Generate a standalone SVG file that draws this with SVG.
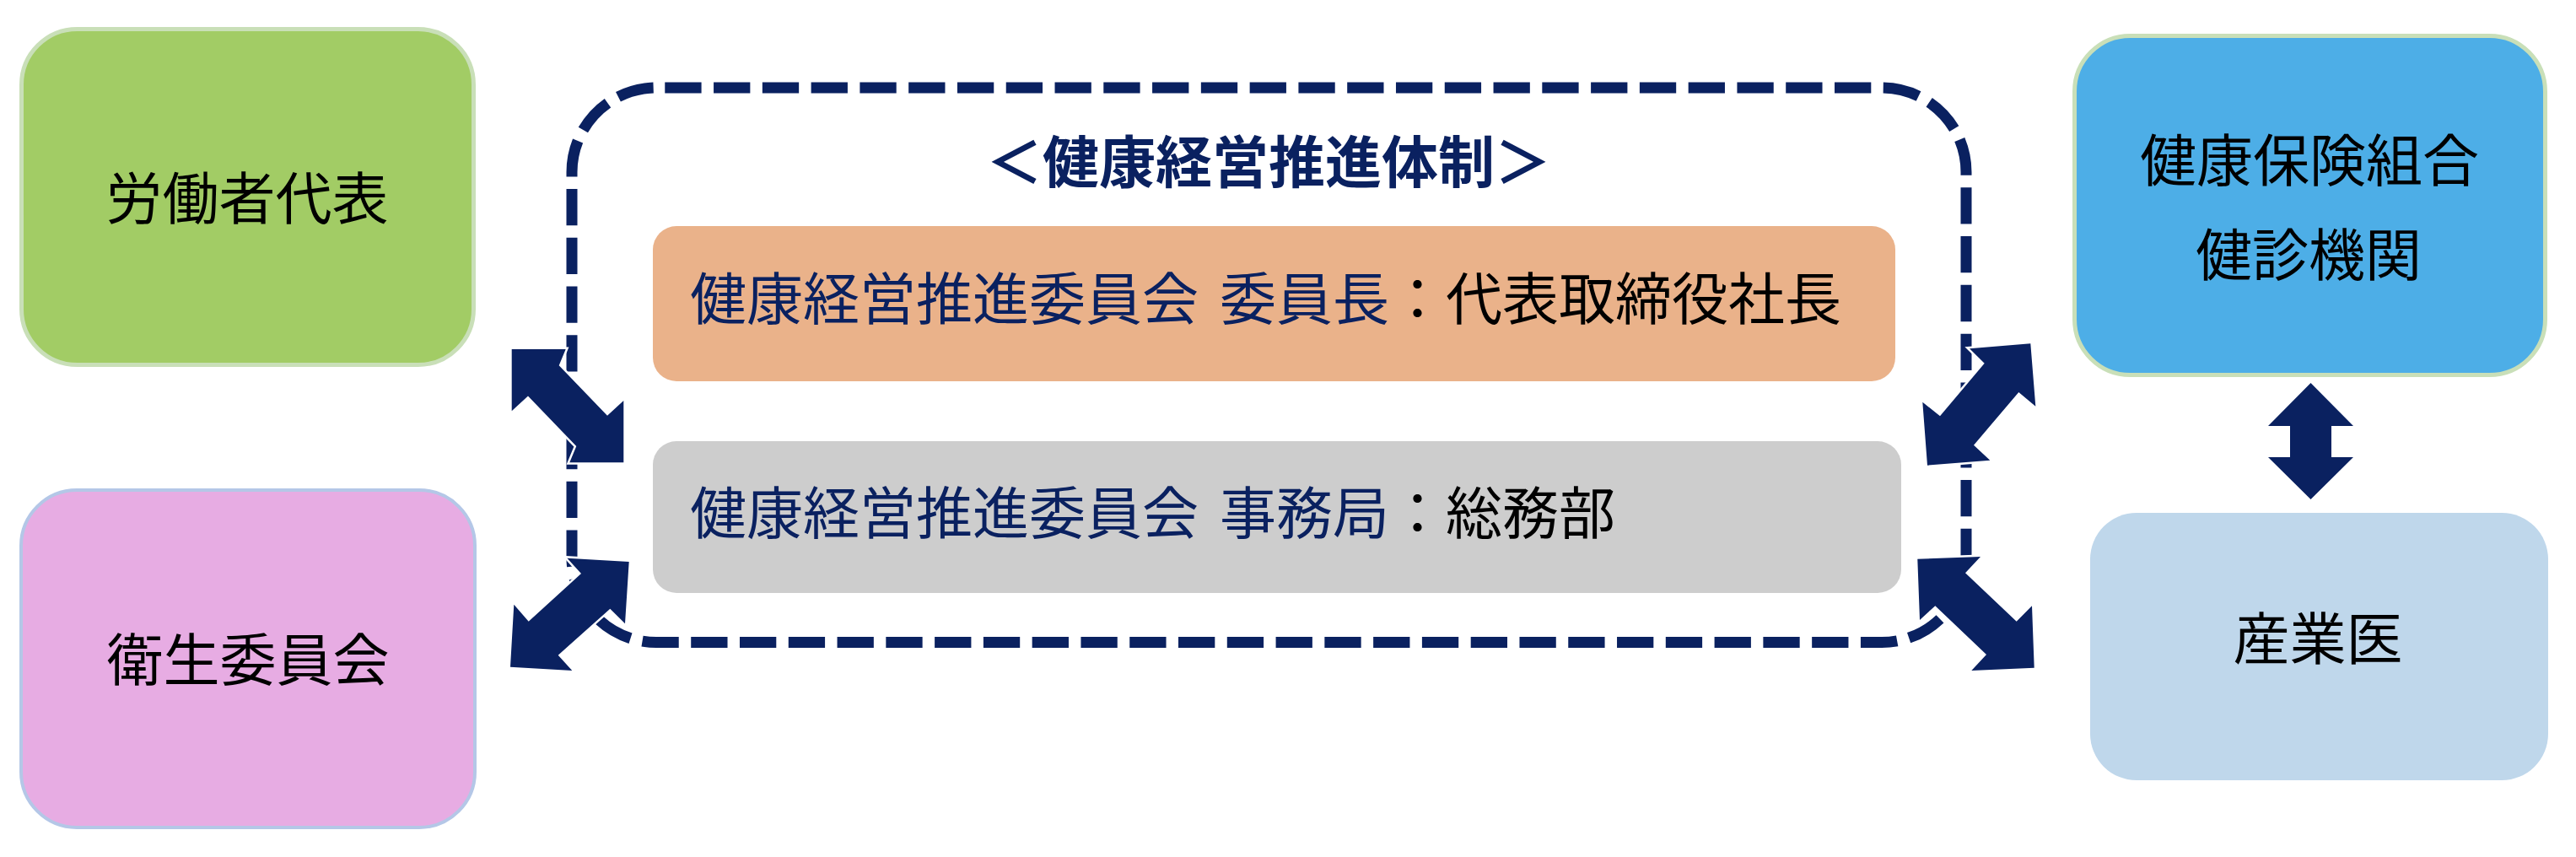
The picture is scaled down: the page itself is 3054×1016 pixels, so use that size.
<svg xmlns="http://www.w3.org/2000/svg" width="3054" height="1016" viewBox="0 0 3054 1016">
<style>
text{font-family:'Liberation Sans','Noto Sans CJK JP',sans-serif;font-size:67px;}
.lbl{fill:#000;text-anchor:middle;}
.navy{fill:#0A2160;}
.blk{fill:#000;}
.title{font-weight:bold;fill:#0A2160;text-anchor:middle;}
.arr{fill:#0A2160;stroke:#fff;stroke-width:5;stroke-linejoin:miter;paint-order:stroke;}
</style>
<rect width="3054" height="1016" fill="#fff"/>
<g id="node-roudousha">
<rect x="25.5" y="34.5" width="536" height="398" rx="66" fill="#A2CC65" stroke="#C9DFB8" stroke-width="5"/>
<text class="lbl" x="293" y="260">労働者代表</text>
</g>
<g id="node-eisei">
<rect x="25" y="581" width="538" height="400" rx="66" fill="#E7ACE3" stroke="#B4C7E7" stroke-width="4"/>
<text class="lbl" x="294" y="807">衛生委員会</text>
</g>
<g id="node-kenpo">
<rect x="2459.5" y="42.5" width="558" height="402" rx="66" fill="#4DAEE7" stroke="#C9DFB8" stroke-width="5"/>
<text class="lbl" x="2738" y="215">健康保険組合</text>
<text class="lbl" x="2737" y="327">健診機関</text>
</g>
<g id="node-sangyoui">
<rect x="2478" y="608" width="543" height="317" rx="55" fill="#BFD7EB"/>
<text class="lbl" x="2748" y="782">産業医</text>
</g>
<g id="node-taisei">
<rect x="678" y="104" width="1653" height="657.5" rx="100" fill="none" stroke="#0A2160" stroke-width="13" stroke-dasharray="43.3 14.48" stroke-dashoffset="47.5"/>
<text class="title" x="1504" y="217">＜健康経営推進体制＞</text>
</g>
<g id="node-iinchou">
<rect x="774" y="268" width="1473" height="184" rx="28" fill="#EAB28A"/>
<text y="379"><tspan class="navy" x="818">健康経営推進委員会</tspan><tspan class="navy" x="1446">委員長</tspan><tspan class="blk">：代表取締役社長</tspan></text>
</g>
<g id="node-jimukyoku">
<rect x="774" y="523" width="1480" height="180" rx="28" fill="#CDCDCD"/>
<text y="633"><tspan class="navy" x="818">健康経営推進委員会</tspan><tspan class="navy" x="1446">事務局</tspan><tspan class="blk">：総務部</tspan></text>
</g>
<g id="connectors">
<polygon class="arr" points="606.7,414 670.7,414 662.7,433.3 720,492.7 739.3,475 739.3,548.3 675.3,548.3 683.3,529 626,469.6 606.7,487.3"/>
<polygon class="arr" points="745.7,666 672.4,661.7 689,680 626.7,736.7 609.3,716.7 605,790.7 678.3,795 661.7,776.7 723.3,721.7 741,739.3"/>
<polygon class="arr" points="2407.3,407.3 2335,413.3 2352.7,430.7 2300,493.3 2279.3,476.7 2285,551.7 2359.3,545.7 2340,527.7 2393.3,465 2413.3,481.7"/>
<polygon class="arr" points="2273.3,662.7 2348,660 2330,679.3 2390.7,736.7 2409,718.3 2411.7,791.7 2337.3,795 2355,776 2294.3,718.3 2276,735"/>
<polygon fill="#0A2160" points="2739.5,454 2790,505 2764,505 2764,542 2790,542 2739.5,592 2689,542 2715,542 2715,505 2689,505"/>
</g>
</svg>
